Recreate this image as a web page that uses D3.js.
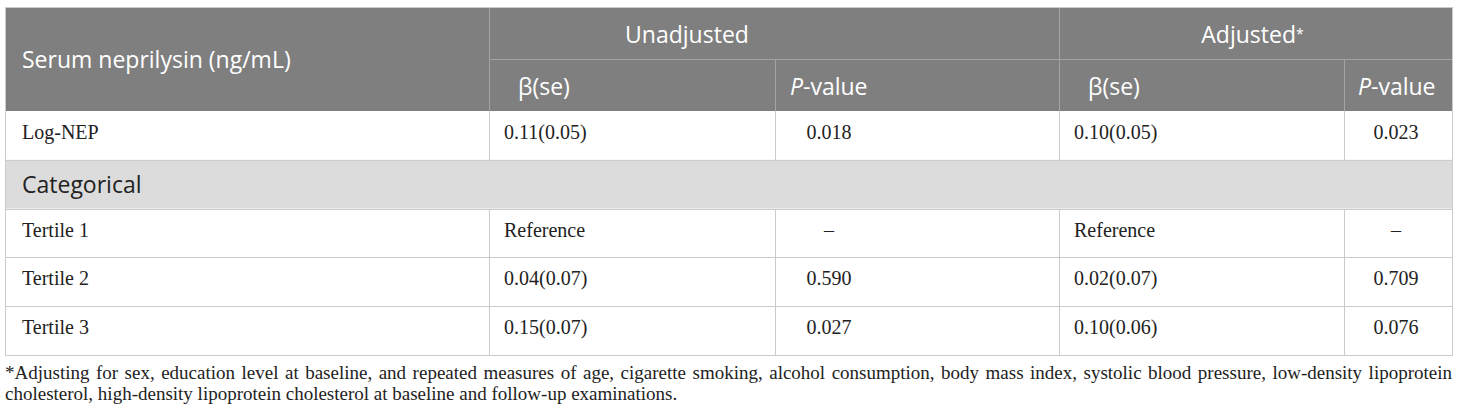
<!DOCTYPE html>
<html>
<head>
<meta charset="utf-8">
<script src="https://cdn.jsdelivr.net/npm/d3@7"></script>
<style>
  body { margin: 0; background: #fff; }
  svg { display: block; }
</style>
</head>
<body>
<svg id="table" width="1460" height="416"></svg>
<script>
// table content
const rowLabels = ["Log-NEP", "Categorical", "Tertile 1", "Tertile 2", "Tertile 3"];
const unadjBeta = ["0.11(0.05)", null, "Reference", "0.04(0.07)", "0.15(0.07)"];
const unadjP = ["0.018", null, "–", "0.590", "0.027"];
const adjBeta = ["0.10(0.05)", null, "Reference", "0.02(0.07)", "0.10(0.06)"];
const adjP = ["0.023", null, "–", "0.709", "0.076"];
const groupLabels = ["Unadjusted", "Adjusted"];
const firstHeader = "Serum neprilysin (ng/mL)";
const footnote = [
  "*Adjusting for sex, education level at baseline, and repeated measures of age, cigarette smoking, alcohol consumption, body mass index, systolic blood pressure, low-density lipoprotein",
  "cholesterol, high-density lipoprotein cholesterol at baseline and follow-up examinations."
];

const sans = "'Open Sans', sans-serif";
const serif = "'Liberation Serif', 'Times New Roman', serif";
const headBg = "#7f7f7f", lineCol = "#cbcbcb", headLine = "#a3a3a3", catBg = "#dcdcdc";

const svg = d3.select('#table');

// column edges
const cols = ["label", "ub", "up", "ab", "ap"];
const colEdges = [5, 489, 775, 1059, 1344, 1452];
const x0 = d3.scaleOrdinal().domain(cols).range(colEdges.slice(0, 5));
const x1 = d3.scaleOrdinal().domain(cols).range(colEdges.slice(1));

const tableTop = 7, headSplit = 59, headBottom = 111, tableBottom = 355;
const y = d3.scaleBand().domain(rowLabels).range([headBottom, tableBottom]);

// header background
svg.append('rect').attr('x', colEdges[0]).attr('y', tableTop)
  .attr('width', colEdges[5] - colEdges[0]).attr('height', headBottom - tableTop)
  .attr('fill', headBg);

// header lines
let hl = svg.append('g').attr('stroke', headLine).attr('stroke-width', 1).attr('shape-rendering', 'crispEdges');
hl.append('line').attr('x1', x0('ub')).attr('x2', x1('ap')).attr('y1', headSplit + 0.5).attr('y2', headSplit + 0.5);
hl.append('line').attr('x1', x0('ub') + 0.5).attr('x2', x0('ub') + 0.5).attr('y1', tableTop).attr('y2', headBottom);
hl.append('line').attr('x1', x0('ab') + 0.5).attr('x2', x0('ab') + 0.5).attr('y1', tableTop).attr('y2', headBottom);
hl.append('line').attr('x1', x0('up') + 0.5).attr('x2', x0('up') + 0.5).attr('y1', headSplit).attr('y2', headBottom);
hl.append('line').attr('x1', x0('ap') + 0.5).attr('x2', x0('ap') + 0.5).attr('y1', headSplit).attr('y2', headBottom);

// header text
let ht = svg.append('g').attr('fill', '#fff').style('font-family', sans).style('font-size', '23px');
ht.append('text').attr('x', x0('label') + 17).attr('y', 68).text(firstHeader);
const groupCenters = [687, (x0('ab') + x1('ap')) / 2 - 3];
ht.selectAll('text.group').data(groupLabels).join('text').classed('group', true)
  .attr('x', (d, i) => groupCenters[i])
  .attr('y', 43).attr('text-anchor', 'middle')
  .each(function(d, i) {
    let t = d3.select(this);
    t.append('tspan').text(d);
    if (i === 1) t.append('tspan').attr('font-size', '14px').attr('dy', '-4').text('*');
  });
const subPad = { ub: 29, up: 15, ab: 29, ap: 14 };
['ub', 'up', 'ab', 'ap'].forEach(c => {
  let t = ht.append('text').attr('x', x0(c) + subPad[c]).attr('y', 95);
  if (c === 'ub' || c === 'ab') t.text('β(se)');
  else { t.append('tspan').style('font-style', 'italic').text('P'); t.append('tspan').text('-value'); }
});

// body rows
let rows = svg.append('g').selectAll('g.row').data(rowLabels).join('g').classed('row', true)
  .attr('transform', d => `translate(0,${y(d)})`);

rows.filter(d => d === 'Categorical').append('rect')
  .attr('x', colEdges[0]).attr('width', colEdges[5] - colEdges[0]).attr('height', y.bandwidth())
  .attr('fill', catBg);

// horizontal row lines
svg.append('g').attr('stroke', lineCol).attr('shape-rendering', 'crispEdges')
  .selectAll('line').data(rowLabels).join('line')
  .attr('x1', colEdges[0]).attr('x2', colEdges[5])
  .attr('y1', d => y(d) + y.bandwidth() + 0.5).attr('y2', d => y(d) + y.bandwidth() + 0.5);

// vertical lines (skip categorical row)
let vl = svg.append('g').attr('stroke', lineCol).attr('shape-rendering', 'crispEdges');
rowLabels.forEach(r => {
  let edges = r === 'Categorical' ? [colEdges[0], colEdges[5]] : colEdges;
  edges.forEach(e => {
    vl.append('line').attr('x1', e + 0.5).attr('x2', e + 0.5)
      .attr('y1', y(r)).attr('y2', y(r) + y.bandwidth() + 1);
  });
});
// outer sides of the header
vl.append('line').attr('x1', colEdges[0] + 0.5).attr('x2', colEdges[0] + 0.5).attr('y1', tableTop).attr('y2', headBottom);
vl.append('line').attr('x1', colEdges[5] + 0.5).attr('x2', colEdges[5] + 0.5).attr('y1', tableTop).attr('y2', headBottom);
vl.append('line').attr('x1', colEdges[0]).attr('x2', colEdges[5] + 1).attr('y1', tableTop + 0.5).attr('y2', tableTop + 0.5);

// cell text
rows.append('text')
  .attr('x', x0('label') + 17).attr('y', d => d === 'Categorical' ? 33 : 28)
  .style('font-family', d => d === 'Categorical' ? sans : serif)
  .style('font-size', d => d === 'Categorical' ? '23px' : '20px')
  .attr('fill', '#222').text(d => d);

const cellCols = [
  { key: 'ub', values: unadjBeta, anchor: 'start' },
  { key: 'up', values: unadjP, anchor: 'middle' },
  { key: 'ab', values: adjBeta, anchor: 'start' },
  { key: 'ap', values: adjP, anchor: 'middle' }
];
cellCols.forEach(cc => {
  rows.append('text')
    .attr('x', () => {
      if (cc.anchor === 'middle') return cc.key === 'up' ? x0('up') + 54 : (x0('ap') + x1('ap')) / 2 - 2;
      return x0(cc.key) + 15;
    })
    .attr('y', 28).attr('text-anchor', cc.anchor)
    .style('font-family', serif).style('font-size', '20px').attr('fill', '#222')
    .text((d, i) => cc.values[i] || '');
});

// footnote, first line justified through word spacing
let fn = svg.append('g').style('font-family', serif).style('font-size', '19px').attr('fill', '#222');
let line1 = fn.append('text').attr('x', colEdges[0]).attr('y', 379).text(footnote[0]);
let natural = line1.node().getComputedTextLength();
let gaps = footnote[0].split(' ').length - 1;
line1.style('word-spacing', ((colEdges[5] - colEdges[0] - natural) / gaps) + 'px');
fn.append('text').attr('x', colEdges[0]).attr('y', 400).text(footnote[1]);
</script>
</body>
</html>
